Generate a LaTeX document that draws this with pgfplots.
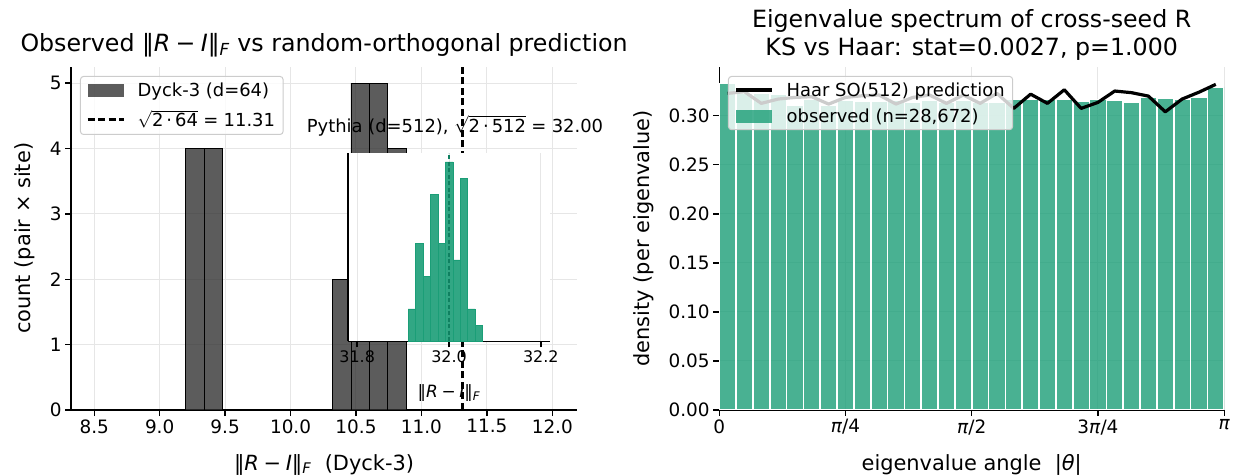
\documentclass[border=0pt]{standalone}
\usepackage{pgfplots}
\pgfplotsset{compat=1.18}
\usepackage{fontspec}
\setmainfont{DejaVu Sans}
\definecolor{darkbar}{HTML}{333333}
\definecolor{tealbar}{HTML}{1B9E77}
\definecolor{tealdash}{HTML}{0F8060}
\definecolor{gridgray}{HTML}{E6E6E6}
\definecolor{legframe}{HTML}{CCCCCC}
\newcommand{\fnorm}{‖\textit{R}\hspace{0.22em}−\hspace{0.22em}\textit{I}‖\textsubscript{\textit{F}}}

\pgfplotsset{
  mpl/.style={
    scale only axis,
    anchor=south west,
    axis lines=left,
    axis line style={-, line width=1.4bp, black},
    tick style={line width=1.4bp, black},
    major tick length=6bp,
    tick align=outside,
    grid=major,
    grid style={line width=1bp, gridgray},
    tick label style={font=\fontsize{18.5}{21}\selectfont},
    label style={font=\fontsize{21}{24}\selectfont},
    title style={font=\fontsize{23.8}{28}\selectfont},
    /pgf/number format/assume math mode=true,
    legend cell align=left,
    legend style={draw=legframe, line width=1bp, rounded corners=3bp,
      fill=white, fill opacity=0.8, text opacity=1, draw opacity=1,
      font=\fontsize{18}{21}\selectfont, inner xsep=6bp, inner ysep=4bp,
      row sep=9bp, column sep=11bp, anchor=north west},
  },
  mplpatch/.style={legend image code/.code={\fill[##1, draw=none, sharp corners] (0bp,-6.5bp) rectangle (36bp,6.5bp);}},
  mplline/.style={legend image code/.code={\draw[##1, sharp corners] (0bp,0bp) -- (36bp,0bp);}},
}

\begin{document}
\begin{tikzpicture}
\useasboundingbox (0,0) rectangle (1233bp,476bp);

% left panel: Dyck-3
\begin{axis}[mpl,
  at={(71.2bp,66bp)}, width=505.7bp, height=343.3bp,
  xmin=8.324, xmax=12.188, ymin=0, ymax=5.25,
  xtick={8.5,9.0,9.5,10.0,10.5,11.0,11.5,12.0},
  ytick={0,1,2,3,4,5},
  xticklabel style={/pgf/number format/.cd, fixed, fixed zerofill, precision=1},
  title={Observed \fnorm{} vs random-orthogonal prediction},
  title style={at={(axis description cs:0.5,1)}, anchor=base, yshift=9bp},
  xlabel={\fnorm\ \ (Dyck-3)},
  xlabel style={at={(axis description cs:0.5,0)}, anchor=base, yshift=-60bp},
  ylabel={count (pair × site)},
  ylabel style={at={(axis description cs:-0.091,0.5)}, anchor=center},
  legend style={at={(axis description cs:0.0174,0.973)}},
]
\addplot[ybar interval, fill=darkbar, fill opacity=0.8, draw=black, line width=0.5bp, forget plot]
  coordinates {(9.199,4) (9.339,4) (9.479,0)};
\addplot[ybar interval, fill=darkbar, fill opacity=0.8, draw=black, line width=0.5bp, forget plot]
  coordinates {(10.320,2) (10.460,5) (10.600,5) (10.741,4) (10.881,0)};
\addplot[black, line width=2.2bp, dash pattern=on 7bp off 3.5bp, forget plot]
  coordinates {(11.3137,0) (11.3137,5.25)};
\addlegendimage{mplpatch, fill=darkbar, fill opacity=0.8}
\addlegendentry{Dyck-3 (d=64)}
\addlegendimage{mplline, black, line width=2.2bp, dash pattern=on 7bp off 3.5bp}
\addlegendentry{$\sqrt{\mbox{2\,·\,64}}$\hspace{0.3em}=\hspace{0.3em}11.31}
\end{axis}

% inset: Pythia
\begin{axis}[mpl,
  at={(348bp,134.5bp)}, width=202bp, height=188.5bp,
  axis background/.style={fill=white},
  xmin=31.78, xmax=32.22, ymin=0, ymax=11.55,
  xtick={31.8,32.0,32.2}, ytick=\empty,
  xmajorgrids=true, ymajorgrids=false,
  xticklabel style={font=\fontsize{16}{18}\selectfont, /pgf/number format/.cd, fixed, fixed zerofill, precision=1},
  title={Pythia (d=512), $\sqrt{\mbox{2\,·\,512}}$\hspace{0.3em}=\hspace{0.3em}32.00},
  title style={font=\fontsize{18}{20}\selectfont, at={(axis description cs:0.5,1)}, anchor=base, yshift=15bp, xshift=6bp},
  xlabel={\fnorm},
  xlabel style={font=\fontsize{17}{20}\selectfont, at={(axis description cs:0.5,0)}, anchor=base, yshift=-56bp},
]
\addplot[ybar interval, fill=tealbar, fill opacity=0.9, draw=tealbar, line width=0.5bp]
  coordinates {(31.9110,2) (31.9272,6) (31.9434,4) (31.9596,9) (31.9758,6) (31.9920,11)
               (32.0082,5) (32.0244,10) (32.0406,2) (32.0568,1) (32.0730,0)};
\addplot[tealdash, line width=1.8bp, dash pattern=on 4bp off 2.5bp]
  coordinates {(32.0,0) (32.0,11.55)};
\end{axis}

% right panel: eigenvalue angles
\begin{axis}[mpl,
  at={(719.2bp,66bp)}, width=505bp, height=343.3bp,
  xmin=0, xmax=3.14159, ymin=0, ymax=0.35,
  xtick={0,0.7854,1.5708,2.3562,3.14159},
  xticklabels={0,\textit{π}/4,\textit{π}/2,3\textit{π}/4,\textit{π}},
  ytick={0,0.05,0.10,0.15,0.20,0.25,0.30},
  yticklabel style={/pgf/number format/.cd, fixed, fixed zerofill, precision=2},
  title={Eigenvalue spectrum of cross-seed R\\KS vs Haar: stat=0.0027, p=1.000},
  title style={align=center, inner sep=0pt, at={(axis description cs:0.5,1)}, anchor=south, yshift=0bp},
  xlabel={eigenvalue angle \ |\textit{θ}|},
  xlabel style={at={(axis description cs:0.5,0)}, anchor=base, yshift=-60bp},
  ylabel={density (per eigenvalue)},
  ylabel style={at={(axis description cs:-0.149,0.5)}, anchor=center},
  legend style={at={(axis description cs:0.0174,0.973)}, row sep=7bp},
]
\addplot[ybar interval, fill=tealbar, fill opacity=0.8, draw=white, line width=1.6bp, forget plot]
  coordinates {
    (0.00000,0.333) (0.10472,0.323) (0.20944,0.323) (0.31416,0.322) (0.41888,0.311)
    (0.52360,0.317) (0.62832,0.311) (0.73304,0.316) (0.83776,0.315) (0.94248,0.315)
    (1.04720,0.316) (1.15192,0.314) (1.25664,0.316) (1.36136,0.314) (1.46608,0.316)
    (1.57080,0.314) (1.67552,0.314) (1.78024,0.3167) (1.88496,0.3167) (1.98968,0.3167)
    (2.09440,0.3167) (2.19911,0.315) (2.30383,0.3167) (2.40855,0.316) (2.51327,0.3143)
    (2.61799,0.3194) (2.72271,0.318) (2.82743,0.3167) (2.93215,0.3194) (3.03687,0.3296)
    (3.14159,0)
  };
\addplot[black, line width=3.2bp, line join=round, forget plot]
  coordinates {
    (0.05236,0.3228) (0.15708,0.3245) (0.26180,0.3126) (0.36652,0.3170) (0.47124,0.3187)
    (0.57596,0.3194) (0.68068,0.3119) (0.78540,0.3187) (0.89012,0.3204) (0.99484,0.3211)
    (1.09956,0.3119) (1.20428,0.3187) (1.30900,0.3211) (1.41372,0.3126) (1.51844,0.3211)
    (1.62316,0.3126) (1.72788,0.3228) (1.83260,0.3075) (1.93732,0.3220) (2.04204,0.3126)
    (2.14675,0.3265) (2.25147,0.3075) (2.35619,0.3136) (2.46091,0.3252) (2.56563,0.3235)
    (2.67035,0.3200) (2.77507,0.3040) (2.87979,0.3170) (2.98451,0.3240) (3.08923,0.3320)
  };
\addlegendimage{mplline, black, line width=3.2bp}
\addlegendentry{Haar SO(512) prediction}
\addlegendimage{mplpatch, fill=tealbar, fill opacity=0.8}
\addlegendentry{observed (n=28,672)}
\end{axis}
\end{tikzpicture}
\end{document}
